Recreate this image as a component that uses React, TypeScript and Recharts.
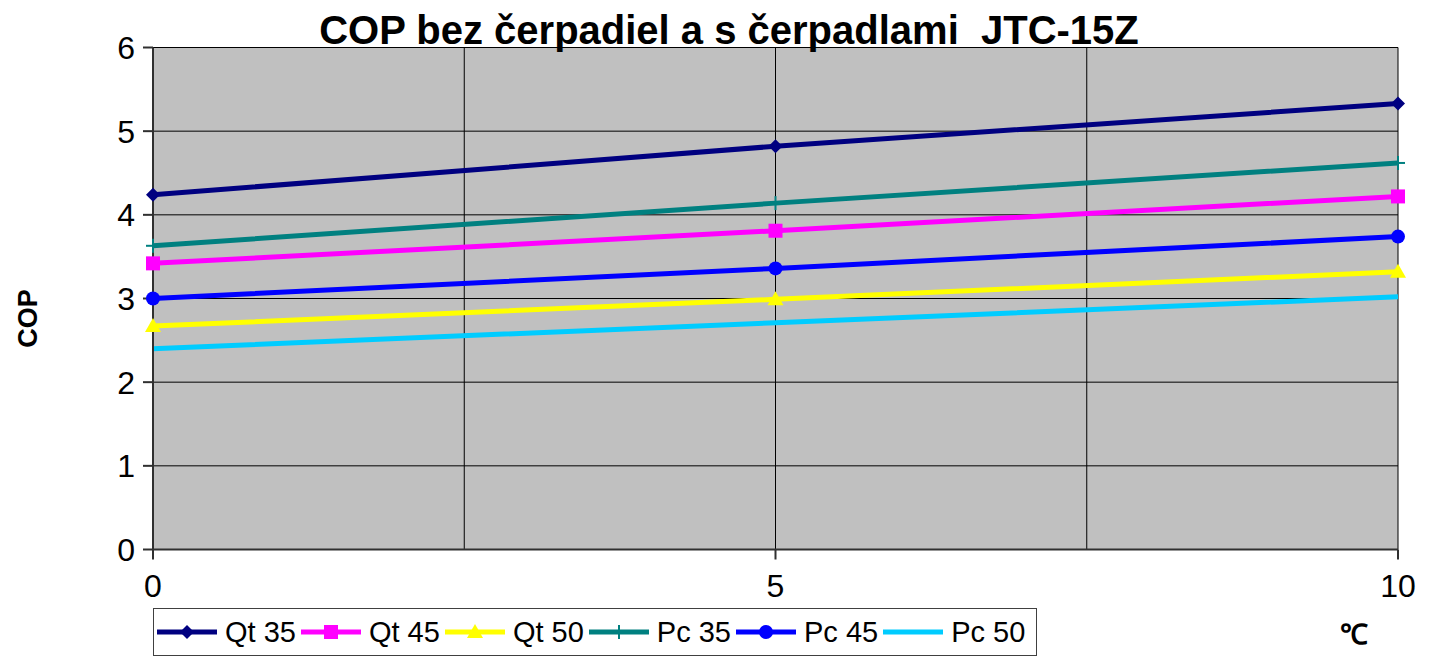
import { LineChart, Line, XAxis, YAxis, CartesianGrid, Legend } from 'recharts';

const TEMPS = [0, 5, 10];
const QT35 = [4.24, 4.82, 5.33];
const QT45 = [3.42, 3.81, 4.22];
const QT50 = [2.67, 2.99, 3.32];
const PC35 = [3.63, 4.14, 4.62];
const PC45 = [3.0, 3.36, 3.74];
const PC50 = [2.4, 2.71, 3.02];
const Y_TICKS = [0, 1, 2, 3, 4, 5, 6];
const X_TICKS = [0, 5, 10];
const X_GRID = [0, 2.5, 5, 7.5, 10];

const FONT = '"Liberation Sans", Arial, sans-serif';

const series = [
  { key: 'qt35', name: 'Qt 35', color: '#000080', marker: 'diamond', values: QT35 },
  { key: 'qt45', name: 'Qt 45', color: '#FF00FF', marker: 'square', values: QT45 },
  { key: 'qt50', name: 'Qt 50', color: '#FFFF00', marker: 'triangle', values: QT50 },
  { key: 'pc35', name: 'Pc 35', color: '#008080', marker: 'plus', values: PC35 },
  { key: 'pc45', name: 'Pc 45', color: '#0000FF', marker: 'circle', values: PC45 },
  { key: 'pc50', name: 'Pc 50', color: '#00CCFF', marker: 'none', values: PC50 },
];

const chartData = TEMPS.map((t, i) => {
  const row: Record<string, number> = { t };
  series.forEach((s) => { row[s.key] = s.values[i]; });
  return row;
});

function markerShape(type: string, cx: number, cy: number, color: string, key?: string | number) {
  const r = 7;
  switch (type) {
    case 'diamond':
      return <path key={key} d={`M${cx},${cy - r} L${cx + r},${cy} L${cx},${cy + r} L${cx - r},${cy} Z`} fill={color} />;
    case 'square':
      return <rect key={key} x={cx - r} y={cy - r} width={2 * r} height={2 * r} fill={color} />;
    case 'triangle':
      return <path key={key} d={`M${cx},${cy - r - 1} L${cx + r + 1},${cy + r - 1} L${cx - r - 1},${cy + r - 1} Z`} fill={color} />;
    case 'plus':
      return (
        <g key={key} stroke={color} strokeWidth={2}>
          <line x1={cx - r} y1={cy} x2={cx + r} y2={cy} />
          <line x1={cx} y1={cy - r} x2={cx} y2={cy + r} />
        </g>
      );
    case 'circle':
      return <circle key={key} cx={cx} cy={cy} r={r} fill={color} />;
    default:
      return <g key={key} />;
  }
}

const makeDot = (type: string, color: string) => (props: any) =>
  markerShape(type, props.cx, props.cy, color, props.key ?? props.index);

function renderLegend(props: any) {
  const order = series.map((s) => s.key);
  const payload = [...(props.payload || [])].sort(
    (a: any, b: any) => order.indexOf(a.dataKey) - order.indexOf(b.dataKey),
  );
  return (
    <div
      style={{
        boxSizing: 'border-box', width: 884, height: 48, border: '1.5px solid #404040',
        background: '#fff', display: 'flex', alignItems: 'center', paddingLeft: 3,
        fontFamily: FONT, fontSize: 29, color: '#000',
      }}
    >
      {payload.map((p: any) => {
        const s = series.find((x) => x.key === p.dataKey);
        return (
          <div key={p.dataKey} style={{ display: 'flex', alignItems: 'center', marginRight: 5 }}>
            <svg width={60} height={20} style={{ marginRight: 8 }}>
              <line x1={0} y1={10} x2={60} y2={10} stroke={p.color} strokeWidth={5} />
              {s ? markerShape(s.marker, 30, 10, p.color) : null}
            </svg>
            <span>{p.value}</span>
          </div>
        );
      })}
    </div>
  );
}

export default function App() {
  return (
    <div style={{ position: 'absolute', left: 0, top: 0, width: 1434, height: 657, background: '#fff', overflow: 'hidden' }}>
      <div
        style={{
          position: 'absolute', left: 729, top: 10, transform: 'translateX(-50%)', whiteSpace: 'pre',
          fontFamily: FONT, fontWeight: 'bold', fontSize: 40, lineHeight: '40px', color: '#000', zIndex: 2,
        }}
      >
        {'COP bez čerpadiel a s čerpadlami  JTC-15Z'}
      </div>
      <LineChart width={1434} height={657} data={chartData} margin={{ top: 47.5, right: 36, bottom: 0, left: 0 }}>
        <CartesianGrid fill="#C0C0C0" stroke="#000" strokeWidth={1} verticalValues={X_GRID} horizontalValues={Y_TICKS} />
        <XAxis
          dataKey="t" type="number" domain={[0, 10]} ticks={X_TICKS} height={107.5}
          stroke="#303030" strokeWidth={2} tickSize={10} tickMargin={15}
          tick={{ fill: '#000', fontSize: 32, fontFamily: FONT }}
          label={{
            content: ({ viewBox }: any) => (
              <text x={viewBox.x + viewBox.width - 44} y={viewBox.y + 94} textAnchor="middle"
                fontFamily={FONT} fontWeight="bold" fontSize={28} fill="#000">℃</text>
            ),
          }}
        />
        <YAxis
          type="number" domain={[0, 6]} ticks={Y_TICKS} width={153}
          stroke="#303030" strokeWidth={2} tickSize={10} tickMargin={8}
          tick={{ fill: '#000', fontSize: 32, fontFamily: FONT }}
          label={{
            content: ({ viewBox }: any) => {
              const cx = 28;
              const cy = viewBox.y + viewBox.height / 2 + 20;
              return (
                <text x={cx} y={cy} transform={`rotate(-90, ${cx}, ${cy})`} textAnchor="middle"
                  dominantBaseline="central" fontFamily={FONT} fontWeight="bold" fontSize={27} fill="#000">COP</text>
              );
            },
          }}
        />
        <Legend
          layout="vertical" align="center" verticalAlign="middle"
          wrapperStyle={{ left: 153, top: 608, width: 884, height: 48 }}
          content={renderLegend}
        />
        {series.map((s) => (
          <Line
            key={s.key} dataKey={s.key} name={s.name} stroke={s.color} strokeWidth={5}
            dot={s.marker === 'none' ? false : makeDot(s.marker, s.color)}
            activeDot={false} isAnimationActive={false} legendType="line"
          />
        ))}
      </LineChart>
    </div>
  );
}
